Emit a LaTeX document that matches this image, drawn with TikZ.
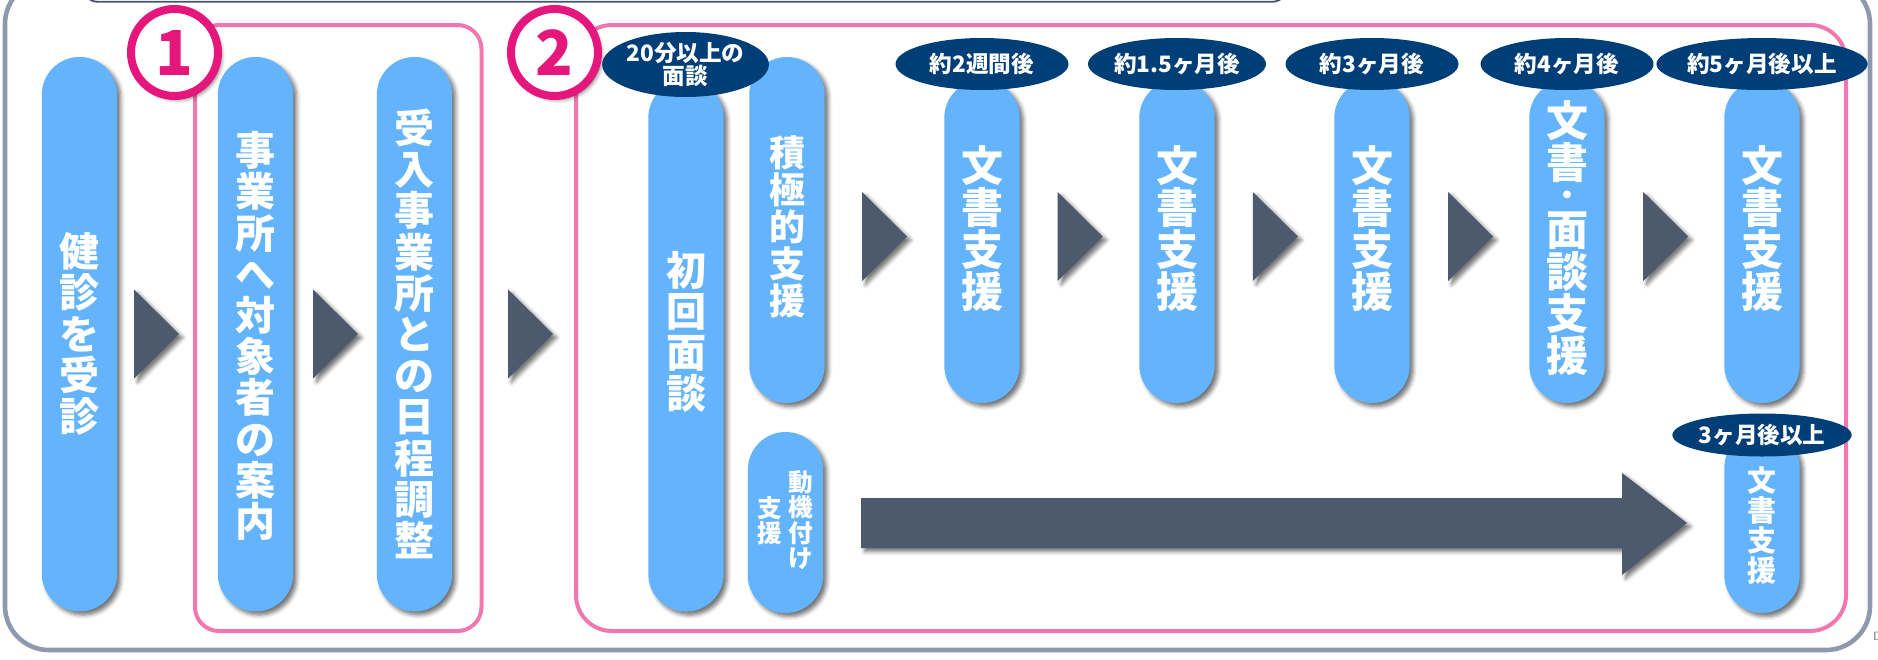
\documentclass[tikz,border=0pt]{standalone}
\usepackage{fontspec}
\newfontfamily\jp{Noto Sans CJK JP}
\usetikzlibrary{shapes.geometric,shadows.blur}
\definecolor{pillblue}{HTML}{63B4FD}
\definecolor{navy}{HTML}{003E77}
\definecolor{arrowgray}{HTML}{4D5A6E}
\definecolor{framepink}{HTML}{F277AF}
\definecolor{circmag}{HTML}{E5177C}
\definecolor{framegray}{HTML}{8E99AE}
\definecolor{topline}{HTML}{44546A}
\begin{document}
\begin{tikzpicture}[x=1pt,y=-1pt,
  shad/.style={blur shadow={shadow xshift=1.8pt,shadow yshift=-1.8pt,shadow blur radius=2pt,shadow opacity=55}},
  pill/.style={fill=pillblue,rounded corners=18.85pt,minimum width=37.7pt,inner sep=0pt,shad},
  oval/.style={ellipse,fill=navy,inner sep=0pt,text=white,align=center,
    font=\jp\bfseries\fontsize{11.3}{11.8}\selectfont},
  ptext/.style={text=white,align=center,inner sep=0pt,font=\jp\bfseries\fontsize{20}{20.6}\selectfont},
  ptextb/.style={text=white,align=center,inner sep=0pt,font=\jp\bfseries\fontsize{21}{21}\selectfont},
  ptextdot/.style={text=white,align=center,inner sep=0pt,font=\jp\bfseries\fontsize{14}{14}\selectfont},
  ptextm/.style={text=white,align=center,inner sep=0pt,font=\jp\bfseries\fontsize{18}{18.5}\selectfont},
  ptexts/.style={text=white,align=center,inner sep=0pt,font=\jp\bfseries\fontsize{14.5}{15}\selectfont},
  ptextxs/.style={text=white,align=center,inner sep=0pt,font=\jp\bfseries\fontsize{12.3}{12.6}\selectfont},
  numcirc/.style={circle,draw=circmag,line width=4pt,fill=white,minimum size=43.5pt,inner sep=0pt,
    text=circmag,font=\jp\bfseries\fontsize{31}{31}\selectfont,shad},
  pinkframe/.style={draw=framepink,line width=2pt},
  tri/.style={fill=arrowgray,shad}
]
\useasboundingbox (0,0) rectangle (939,329.5);

% outer frames
\draw[topline,line width=0.9pt,rounded corners=8pt] (41,-30) rectangle (644,0.9);
\draw[framegray,line width=2.3pt,rounded corners=22pt] (2.5,-10) rectangle (935,325);
\draw[pinkframe,rounded corners=12pt] (97.5,12.5) rectangle (240.75,315.5);
\draw[pinkframe,rounded corners=18pt] (288,12.5) rectangle (923,315.5);

% number circles
\node[numcirc] (c1) at (87.25,26.25) {1};
\node[numcirc] (c2) at (277.25,26.25) {2};

% left pills
\node[pill,minimum height=277.25pt] (p1) at (39.75,167.1) {};
\node[pill,minimum height=277.25pt] (p2) at (127.75,167.1) {};
\node[pill,minimum height=277.25pt] (p3) at (207.25,167.1) {};
\node[ptext] (t1) at (39.75,167) {健\\診\\を\\受\\診};
\node[ptext] (t2) at (127.75,168) {事\\業\\所\\へ\\対\\象\\者\\の\\案\\内};
\node[ptext] (t3) at (207.25,167) {受\\入\\事\\業\\所\\と\\の\\日\\程\\調\\整};

% section 2 pills
\node[pill,minimum height=265.75pt] (p4) at (343,172.9) {};
\node[pill,minimum height=173pt] (p5) at (393.5,115) {};
\node[pill,minimum height=90.5pt] (p6) at (392.75,261.25) {};
\foreach \i/\x in {7/491,8/588.5,9/686,10/783.5,11/881}{
  \node[pill,minimum height=161.5pt] (p\i) at (\x,120.75) {};
}
\node[pill,minimum height=91.5pt] (p12) at (881,260.75) {};

\node[ptext] (t4) at (343,166) {初\\回\\面\\談};
\node[ptextm] (t5) at (393.5,113.25) {積\\極\\的\\支\\援};
\node[ptextxs] (t6a) at (400.5,260) {動\\機\\付\\け};
\node[ptextxs] (t6b) at (385,260.5) {支\\援};
\node[ptextb] (t7) at (491,114.5) {文\\書\\支\\援};
\node[ptextb] (t8) at (588.5,114.5) {文\\書\\支\\援};
\node[ptextb] (t9) at (686,114.5) {文\\書\\支\\援};
\node[ptextb] (t10a) at (783.5,71) {文\\書};
\node[ptextdot] (t10b) at (783.5,99) {・};
\node[ptextb] (t10c) at (783.5,147) {面\\談\\支\\援};
\node[ptextb] (t11) at (881,114.5) {文\\書\\支\\援};
\node[ptexts] (t12) at (881,262.5) {文\\書\\支\\援};

% ovals
\node[oval,minimum width=78.5pt,minimum height=32.5pt] (o0) at (342.75,32.25) {20分以上の\\面談};
\node[oval,minimum width=86.5pt,minimum height=26pt] (o1) at (491,32) {約2週間後};
\node[oval,minimum width=86.5pt,minimum height=26pt] (o2) at (588.5,32) {約1.5ヶ月後};
\node[oval,minimum width=86.5pt,minimum height=26pt] (o3) at (686,32) {約3ヶ月後};
\node[oval,minimum width=86.5pt,minimum height=26pt] (o4) at (783.5,32) {約4ヶ月後};
\node[oval,minimum width=86.5pt,minimum height=26pt] (o5) at (881,32) {約5ヶ月後以上};
\node[oval,minimum width=87pt,minimum height=21.5pt] (o6) at (881,217.5) {3ヶ月後以上};

% triangles
\foreach \x in {67,156.5,254}{
  \fill[tri] (\x,144.75) -- ++(22.5,22.25) -- ++(-22.5,22.25) -- cycle;
}
\foreach \x in {431,528.8,626.4,724,821.6}{
  \fill[tri] (\x,96) -- ++(22.5,22.25) -- ++(-22.5,22.25) -- cycle;
}

% long arrow
\fill[tri] (430.5,249) -- (811,249) -- (811,236.5) -- (843.5,261.5) -- (811,287.5) -- (811,274) -- (430.5,274) -- cycle;

% edge fragment
\node[anchor=west,inner sep=0pt,text=gray,font=\sffamily\fontsize{6}{6}\selectfont] (dfrag) at (936.3,318) {D};
\end{tikzpicture}
\end{document}
